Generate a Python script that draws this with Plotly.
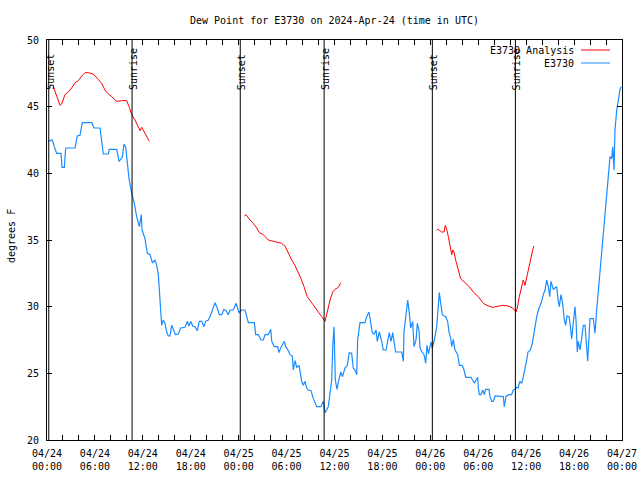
import plotly.graph_objects as go
import pandas as pd

START = pd.Timestamp("2024-04-24 00:00")
END = pd.Timestamp("2024-04-27 00:00")

# Observed dew point (E3730), hours since 2024-04-24 00:00 UTC
obs_hours = [0.13, 0.66, 0.91, 1.21, 1.75, 1.88, 2.17, 2.34, 3.51, 3.79, 4.13, 4.42, 5.60, 5.89, 6.64,
             7.05, 7.68, 7.80, 8.73, 9.02, 9.43, 9.64, 9.86, 10.06, 10.27, 10.61, 10.93, 11.23, 11.56,
             11.81, 11.90, 12.27, 12.56, 12.90, 13.19, 13.52, 13.74, 13.94, 14.15, 14.28, 14.36, 14.56,
             14.78, 14.99, 15.19, 15.40, 15.61, 15.82, 16.07, 16.44, 16.74, 17.28, 17.57, 17.78, 17.99,
             18.24, 18.53, 18.82, 19.07, 19.37, 19.66, 19.87, 20.20, 20.41, 20.75, 21.04, 21.32, 21.58,
             21.88, 22.16, 22.41, 22.70, 22.92, 23.33, 23.67, 23.88, 24.04, 24.38, 24.79, 25.21, 25.96,
             26.13, 26.46, 26.80, 27.09, 27.30, 27.71, 28.01, 28.14, 28.46, 28.89, 29.05, 29.26, 29.72,
             29.89, 30.22, 30.43, 30.72, 30.84, 31.06, 31.27, 31.56, 31.68, 31.89, 32.09, 32.31, 32.52,
             32.72, 33.06, 33.35, 33.77, 34.31, 34.60, 34.81, 35.02, 35.22, 35.44, 35.65, 35.78, 35.94,
             36.10, 36.31, 36.50, 36.78, 37.00, 37.31, 37.60, 37.85, 38.15, 38.35, 38.57, 38.78, 38.90,
             39.19, 39.82, 40.03, 40.32, 40.53, 40.73, 40.95, 41.20, 41.36, 41.61, 41.91, 42.11, 42.45,
             42.61, 42.86, 43.08, 43.29, 43.49, 43.66, 44.42, 44.62, 44.70, 44.95, 45.17, 45.37, 45.54,
             45.79, 45.96, 46.21, 46.37, 46.58, 46.71, 46.96, 47.21, 47.42, 47.58, 47.77, 48.08, 48.24,
             48.50, 48.80, 49.00, 49.12, 49.30, 49.50, 49.92, 50.17, 50.34, 50.55, 50.68, 50.88, 51.09,
             51.43, 51.63, 52.00, 52.22, 52.43, 53.09, 53.26, 53.51, 53.72, 53.93, 54.01, 54.13, 54.35,
             54.56, 54.76, 54.93, 55.35, 55.47, 55.68, 55.88, 56.10, 56.85, 57.14, 57.26, 57.47, 57.84,
             58.18, 58.38, 58.59, 58.80, 59.00, 59.21, 59.44, 59.64, 59.85, 60.07, 60.23, 60.54, 60.77,
             61.02, 61.32, 61.61, 61.86, 62.15, 62.36, 62.57, 62.77, 62.95, 63.11, 63.40, 63.61, 63.82,
             64.02, 64.15, 64.36, 64.53, 64.78, 64.95, 65.11, 65.36, 65.49, 65.70, 65.90, 66.11, 66.24,
             66.40, 66.53, 66.74, 66.95, 67.15, 67.37, 67.58, 67.70, 67.87, 67.99, 68.41, 68.62, 68.83,
             69.03, 69.25, 69.46, 69.66, 69.87, 70.09, 70.29, 70.50, 70.71, 70.84, 71.00, 71.12, 71.34,
             71.54, 71.75, 71.87]
obs_dewpt = [42.4, 42.5, 42.0, 41.5, 41.5, 40.45, 40.45, 41.9, 41.9, 42.8, 42.85, 43.8, 43.8, 43.4, 43.4,
             41.45, 41.45, 41.8, 41.8, 40.9, 41.2, 42.2, 41.95, 40.5, 39.6, 38.5, 37.75, 36.75, 36.0,
             36.9, 35.75, 35.1, 34.0, 33.9, 33.3, 33.5, 33.1, 32.4, 30.6, 29.4, 28.6, 29.0,
             28.75, 28.1, 27.8, 27.8, 28.6, 28.3, 27.9, 27.95, 28.4, 28.45, 28.9, 28.55, 28.9,
             28.55, 28.5, 28.2, 28.9, 28.9, 28.5, 28.9, 29.0, 29.25, 29.75, 30.3, 29.9, 29.4,
             29.4, 29.8, 29.7, 29.4, 29.75, 29.75, 30.25, 29.9, 29.55, 29.75, 29.75, 28.8, 28.8,
             27.9, 27.9, 27.5, 27.5, 27.9, 27.9, 28.3, 27.4, 27.0, 27.0, 26.55, 26.9, 27.4,
             27.0, 26.7, 26.4, 26.3, 25.25, 25.95, 25.45, 25.6, 25.1, 24.4, 24.1, 24.4, 23.9,
             23.75, 23.7, 23.1, 22.5, 22.5, 22.9, 22.05, 22.25, 22.5, 23.5, 24.5, 27.0, 28.5,
             24.5, 23.8, 24.4, 25.1, 24.75, 25.4, 25.6, 26.55, 26.5, 25.4, 25.25, 24.9, 27.5,
             28.8, 28.8, 29.25, 29.6, 28.75, 28.05, 27.95, 28.25, 27.4, 28.1, 27.4, 26.75, 26.75,
             27.4, 28.05, 27.4, 28.05, 27.25, 26.6, 26.6, 25.9, 28.1, 29.25, 30.5, 29.5, 28.4,
             28.9, 27.0, 27.5, 28.75, 28.25, 26.9, 26.6, 26.4, 25.75, 27.1, 26.45, 27.35, 26.9,
             27.5, 28.5, 30.0, 31.05, 30.25, 29.4, 29.25, 28.9, 28.1, 27.6, 27.0, 27.55, 26.75,
             26.4, 25.6, 25.6, 25.25, 24.7, 24.7, 24.5, 24.25, 24.5, 24.7, 23.9, 23.4, 23.4,
             23.75, 23.4, 23.8, 23.8, 23.25, 22.9, 22.9, 23.3, 23.3, 23.25, 22.5, 23.25, 23.4,
             23.4, 23.75, 23.8, 23.95, 23.9, 24.4, 24.25, 24.75, 25.25, 26.0, 26.6, 26.75, 27.25,
             28.3, 29.25, 29.9, 30.25, 30.9, 31.25, 32.0, 31.5, 30.75, 31.9, 31.3, 31.4, 31.5,
             30.4, 30.0, 30.9, 30.4, 29.0, 28.6, 29.3, 29.25, 28.75, 27.6, 28.75, 30.0, 29.0,
             26.6, 27.4, 26.75, 27.6, 28.6, 28.6, 26.5, 25.9, 27.75, 29.1, 29.1, 28.0, 29.75,
             31.1, 32.25, 33.75, 35.25, 36.75, 38.25, 39.25, 41.25, 41.1, 42.0, 40.25, 43.25, 44.75,
             45.6, 46.25, 46.5]

# Analysis dew point (three separate runs, None = gap)
ana_hours = [0.79, 1.63, 1.84, 2.25, 2.67, 3.09, 3.51, 3.92, 4.35, 4.76, 5.17, 5.80, 6.42, 6.85, 7.26,
             7.68, 8.10, 8.73, 9.35, 9.98, 10.31, 10.61, 11.02, 11.31, 11.65, 11.86, 12.15, 12.48, 12.81,
             18.0,
             24.71, 24.92, 25.42, 25.83, 26.26, 26.58, 27.09, 27.71, 28.34, 28.96, 29.39, 29.80, 30.22,
             30.64, 31.05, 31.47, 31.81, 32.18, 32.59, 33.02, 33.56, 33.97, 34.40, 34.81, 35.02, 35.22,
             35.44, 35.78, 36.06, 36.48, 36.78,
             42.0,
             48.80, 49.00, 49.42, 49.71, 49.87, 50.05, 50.25, 50.46, 50.68, 50.80, 50.96, 51.21, 51.50,
             51.80, 52.34, 52.88, 53.38, 54.01, 54.63, 55.26, 55.81, 56.51, 57.06, 57.76, 58.31, 58.73,
             58.89, 59.14, 59.44, 59.64, 59.85, 60.07, 60.27, 60.57, 60.82, 60.98]
ana_dewpt = [46.5, 45.1, 45.2, 45.9, 46.1, 46.4, 46.8, 46.95, 47.3, 47.55, 47.55, 47.45, 47.05, 46.75, 46.25,
             45.95, 45.75, 45.4, 45.45, 45.45, 44.95, 44.4, 44.0, 43.6, 43.2, 43.45, 43.1, 42.75, 42.4,
             None,
             36.8, 36.9, 36.5, 36.25, 35.9, 35.55, 35.4, 35.0, 34.9, 34.8, 34.75, 34.55, 34.0,
             33.5, 33.1, 32.6, 32.1, 31.5, 30.75, 30.4, 29.9, 29.6, 29.25, 28.9, 29.4, 30.0,
             30.5, 31.1, 31.3, 31.45, 31.8,
             None,
             35.75, 35.8, 35.6, 35.6, 36.1, 35.8, 35.25, 34.6, 33.9, 34.25, 34.1, 33.4, 32.75,
             32.1, 31.8, 31.5, 31.1, 30.75, 30.25, 30.05, 29.95, 30.05, 30.1, 30.05, 29.9, 29.6,
             29.9, 30.75, 31.4, 32.0, 31.6, 32.25, 32.6, 33.5, 34.25, 34.55]

# Sun events (hours since start)
event_labels = ["Sunset", "Sunrise", "Sunset", "Sunrise", "Sunset", "Sunrise"]
event_hours = [0.22, 10.65, 24.2, 34.7, 48.25, 58.65]

y_ticks = [20, 25, 30, 35, 40, 45, 50]
tick_step_hours = 2
label_step_hours = 6

FONT = "DejaVu Sans Mono"
RED = "#ff0000"
BLUE = "#1a8cff"

FIG_W, FIG_H = 640, 480
PLOT_L, PLOT_R, PLOT_T, PLOT_B = 47, 622, 40, 440
PW = PLOT_R - PLOT_L
PH = PLOT_B - PLOT_T


def to_time(h):
    return START + pd.to_timedelta(h, unit="h")


obs_t = [to_time(h) for h in obs_hours]
ana_t = [to_time(h) for h in ana_hours]

fig = go.Figure()
fig.add_trace(go.Scatter(x=ana_t, y=ana_dewpt, mode="lines", name="E3730 Analysis",
                         line=dict(color=RED, width=1), connectgaps=False))
fig.add_trace(go.Scatter(x=obs_t, y=obs_dewpt, mode="lines", name="E3730",
                         line=dict(color=BLUE, width=1.2)))

# x ticks
tickvals, ticktext = [], []
h = 0
while h <= 72:
    t = to_time(h)
    tickvals.append(t)
    ticktext.append(t.strftime("%m/%d<br>%H:%M") if h % label_step_hours == 0 else "")
    h += tick_step_hours

# Sun event lines and labels
for lab, eh in zip(event_labels, event_hours):
    t = to_time(eh)
    fig.add_shape(type="line", xref="x", yref="paper", x0=t, x1=t, y0=0, y1=1,
                  line=dict(color="black", width=1))
    fig.add_annotation(x=t, y=(PLOT_B - 92) / PH, xref="x", yref="paper", text=lab, textangle=-90,
                       showarrow=False, xanchor="center", yanchor="bottom", xshift=1,
                       font=dict(family=FONT, size=10, color="black"))

# Manual legend (gnuplot style: text then sample)
legend_items = [("E3730 Analysis", RED), ("E3730", BLUE)]
for i, (name, col) in enumerate(legend_items):
    yp = 1 - (10 + 13 * i) / PH
    fig.add_annotation(x=(576 - PLOT_L) / PW, y=yp, xref="paper", yref="paper", text=name,
                       showarrow=False, xanchor="right", yanchor="middle",
                       font=dict(family=FONT, size=10, color="black"))
    fig.add_shape(type="line", xref="paper", yref="paper",
                  x0=(581 - PLOT_L) / PW, x1=(610 - PLOT_L) / PW, y0=yp, y1=yp,
                  line=dict(color=col, width=1))

# y-axis title
fig.add_annotation(x=(11 - PLOT_L) / PW, y=0.51, xref="paper", yref="paper", text="degrees F",
                   textangle=-90, showarrow=False, xanchor="center", yanchor="middle",
                   font=dict(family=FONT, size=10, color="black"))

fig.update_layout(
    width=FIG_W, height=FIG_H,
    margin=dict(l=PLOT_L, r=FIG_W - PLOT_R, t=PLOT_T, b=FIG_H - PLOT_B, autoexpand=False),
    paper_bgcolor="white", plot_bgcolor="white",
    showlegend=False,
    font=dict(family=FONT, size=10, color="black"),
    title=dict(text="Dew Point for E3730 on 2024-Apr-24 (time in UTC)",
               x=(PLOT_L + PLOT_R) / 2 / FIG_W,
               xanchor="center", y=1 - 20 / FIG_H, yanchor="middle", yref="container",
               font=dict(family=FONT, size=10, color="black"), automargin=False),
)
fig.update_xaxes(range=[START, END], tickvals=tickvals, ticktext=ticktext, ticks="inside",
                 ticklen=5, tickcolor="black", showline=True, linecolor="black", linewidth=1,
                 mirror="allticks", showgrid=False, zeroline=False, ticklabelstandoff=4,
                 automargin=False)
fig.update_yaxes(range=[20, 50], tickvals=y_ticks, ticks="inside", ticklen=5, tickcolor="black",
                 showline=True, linecolor="black", linewidth=1, mirror="allticks",
                 showgrid=False, zeroline=False, ticklabelstandoff=5, automargin=False)

fig.write_html("out.html", config={"displayModeBar": False},
               post_script="document.body.style.margin='0px';document.body.style.overflow='hidden';")
